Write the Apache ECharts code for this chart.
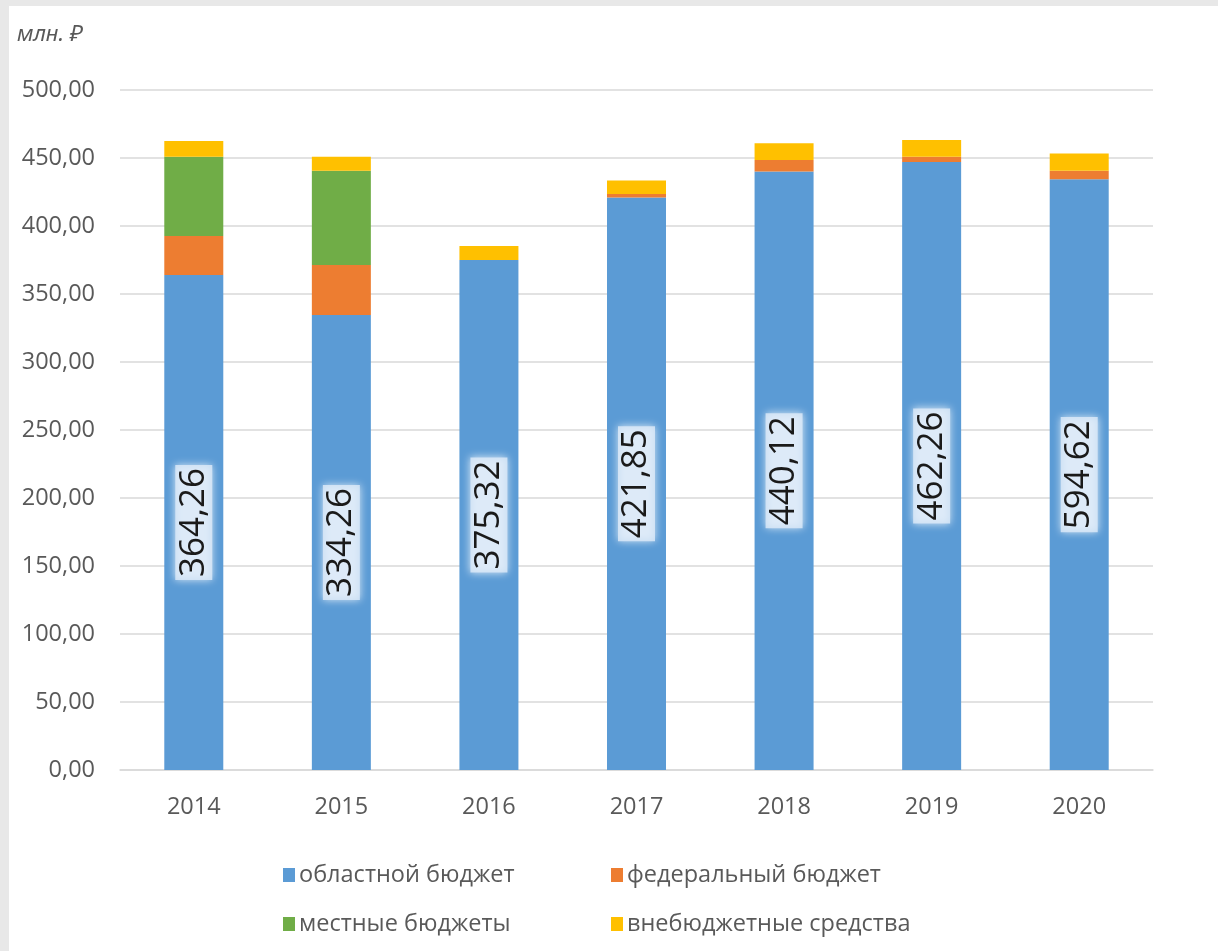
<!DOCTYPE html>
<html>
<head>
<meta charset="utf-8">
<script src="https://cdn.jsdelivr.net/npm/echarts@6/dist/echarts.min.js"></script>
<style>
html,body{margin:0;padding:0;background:#e8e8e8;}
#frame{position:absolute;left:9px;top:6px;right:0;bottom:0;background:#fff;}
#chart{position:absolute;left:0;top:0;width:1218px;height:951px;}
</style>
</head>
<body>
<div id="frame"></div>
<div id="chart"></div>
<script>
var categories = ['2014','2015','2016','2017','2018','2019','2020'];
var seriesNames = ['областной бюджет','федеральный бюджет','местные бюджеты','внебюджетные средства'];
var regional = [364.0, 334.6, 375.0, 421.0, 440.0, 447.0, 434.3];
var federal  = [28.6, 36.7, 0, 2.5, 8.5, 4.0, 6.3];
var localB   = [58.4, 69.4, 0, 0, 0, 0, 0];
var offBudget= [11.5, 10.3, 10.3, 10.0, 12.3, 12.2, 12.7];
var barLabels = ['364,26','334,26','375,32','421,85','440,12','462,26','594,62'];
var yTicks = {min:0, max:500, interval:50};
var unitLabel = 'млн. ₽';

var colors = ['#5b9bd5','#ed7d31','#70ad47','#ffc000'];
var font = '"Open Sans", "Liberation Sans", "DejaVu Sans", sans-serif';
var chart = echarts.init(document.getElementById('chart'), null, {renderer:'canvas'});

function legendAt(i, left, top){
  return {
    data:[seriesNames[i]], left:left, top:top, icon:'rect', padding:0,
    itemWidth:12, itemHeight:14, itemGap:0,
    textStyle:{color:'#595959', fontSize:23.5, fontFamily:font, padding:[0,0,0,-1]}
  };
}

var option = {
  backgroundColor:'transparent',
  color: colors,
  animation:false,
  title:{
    text: unitLabel, left:12, top:19,
    textStyle:{color:'#595959', fontSize:22, fontStyle:'italic', fontWeight:'normal', fontFamily:'"Noto Sans", "DejaVu Sans", sans-serif'}
  },
  grid:{left:120, right:65, top:90, bottom:181, containLabel:false},
  legend:[
    legendAt(0, 283, 863),
    legendAt(1, 611, 863),
    legendAt(2, 283, 912),
    legendAt(3, 611, 912)
  ],
  xAxis:{
    type:'category', data:categories,
    axisLine:{show:true, lineStyle:{color:'#d9d9d9', width:1.5}},
    axisTick:{show:false},
    axisLabel:{color:'#595959', fontSize:23.5, fontFamily:font, margin:25}
  },
  yAxis:{
    type:'value', min:yTicks.min, max:yTicks.max, interval:yTicks.interval,
    axisLine:{show:false}, axisTick:{show:false},
    splitLine:{lineStyle:{color:'#d9d9d9', width:1.5}},
    axisLabel:{color:'#595959', fontSize:23.5, fontFamily:font, margin:25,
      formatter:function(v){ return v.toFixed(2).replace('.', ','); }}
  },
  series:[
    {name:seriesNames[0], type:'bar', stack:'s', data:regional, barWidth:59,
     label:{show:true, position:'inside', rotate:90,
       formatter:function(p){ return barLabels[p.dataIndex]; },
       color:'#1a1a1a', fontSize:35, fontFamily:font,
       backgroundColor:'rgba(222,235,249,0.8)', padding:[2,3,0,3],
       shadowColor:'rgba(255,255,255,0.95)', shadowBlur:8}},
    {name:seriesNames[1], type:'bar', stack:'s', data:federal, barWidth:59},
    {name:seriesNames[2], type:'bar', stack:'s', data:localB, barWidth:59},
    {name:seriesNames[3], type:'bar', stack:'s', data:offBudget, barWidth:59}
  ]
};
chart.setOption(option);
</script>
</body>
</html>
